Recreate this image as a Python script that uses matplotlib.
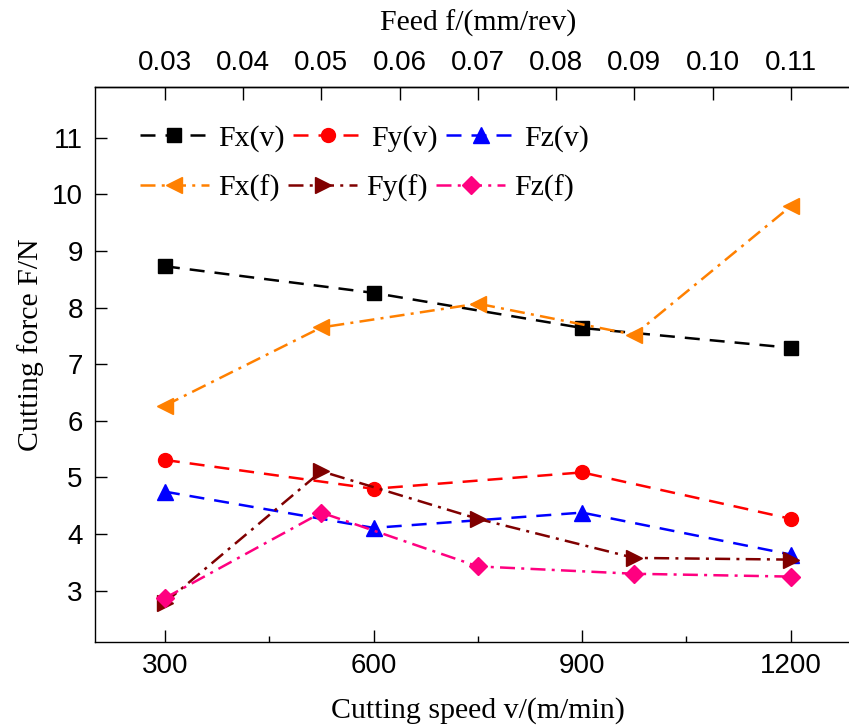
import numpy as np
import matplotlib
matplotlib.use('Agg')
import matplotlib.pyplot as plt
from matplotlib.ticker import MultipleLocator, FormatStrFormatter
plt.rcParams.update({'font.family': 'sans-serif',
                     'font.sans-serif': ['Liberation Sans', 'DejaVu Sans']})

# cutting speed series (bottom axis)
speed = [300, 600, 900, 1200]
fx_v = [8.73, 8.26, 7.64, 7.29]
fy_v = [5.31, 4.80, 5.09, 4.27]
fz_v = [4.75, 4.11, 4.38, 3.64]

# feed series (top axis)
feed = [0.03, 0.05, 0.07, 0.09, 0.11]
fx_f = [6.27, 7.65, 8.07, 7.52, 9.79]
fy_f = [2.79, 5.11, 4.27, 3.58, 3.55]
fz_f = [2.87, 4.38, 3.43, 3.30, 3.25]

feed_ticks = [0.03, 0.04, 0.05, 0.06, 0.07, 0.08, 0.09, 0.10, 0.11]


def f2v(f):
    return 300 + (np.asarray(f) - 0.03) * 11250.0


def v2f(v):
    return 0.03 + (np.asarray(v) - 300) / 11250.0


serif = 'Liberation Serif'
lw = 1.8
dash = (0, (6, 4))
dashdot = (0, (6, 2.5, 1.2, 2.5))

fig = plt.figure(figsize=(8.49, 7.27), dpi=100)
ax = fig.add_axes([0.1123, 0.1173, 0.901, 0.7634])

h1, = ax.plot(speed, fx_v, color='black', ls=dash, lw=lw, marker='s', ms=9.5, label='Fx(v)')
h2, = ax.plot(speed, fy_v, color='#ff0000', ls=dash, lw=lw, marker='o', ms=10, label='Fy(v)')
h3, = ax.plot(speed, fz_v, color='#0000ff', ls=dash, lw=lw, marker='^', ms=11, label='Fz(v)')
h4, = ax.plot(f2v(feed), fx_f, color='#ff8000', ls=dashdot, lw=lw, marker='<', ms=12, label='Fx(f)')
h5, = ax.plot(f2v(feed), fy_f, color='#800000', ls=dashdot, lw=lw, marker='>', ms=12, label='Fy(f)')
h6, = ax.plot(f2v(feed), fz_f, color='#ff0080', ls=dashdot, lw=lw, marker='D', ms=9, label='Fz(f)')

ax.set_xlim(200, 1300)
ax.set_ylim(2.1, 11.9)
ax.xaxis.set_minor_locator(MultipleLocator(150))
ax.set_xticks([300, 600, 900, 1200])
ax.set_yticks(range(3, 12))
ax.tick_params(axis='both', which='major', direction='in', length=8.5, width=1, labelsize=20)
ax.tick_params(axis='x', which='major', pad=8)
ax.tick_params(axis='y', which='major', pad=9)
ax.tick_params(axis='x', which='minor', direction='in', length=4.5, width=1)
ax.spines['right'].set_visible(False)
for s in ['left', 'bottom', 'top']:
    ax.spines[s].set_linewidth(1.0)

ax.set_xlabel('Cutting speed v/(m/min)', family=serif, fontsize=21.5, labelpad=13)
ax.set_ylabel('Cutting force F/N', family=serif, fontsize=21.5)
ax.yaxis.set_label_coords(-0.067, 0.535)

top = ax.secondary_xaxis('top', functions=(v2f, f2v))
top.set_xticks(feed_ticks)
top.xaxis.set_major_formatter(FormatStrFormatter('%.2f'))
top.tick_params(axis='x', which='major', direction='in', length=9, width=1, labelsize=20, pad=8)
top.tick_params(axis='x', which='minor', length=0)
top.spines['top'].set_linewidth(1.0)
top.set_xlabel('Feed f/(mm/rev)', family=serif, fontsize=21.5, labelpad=14)

leg_kw = dict(frameon=False, ncol=3, handlelength=2.3, handletextpad=0.3,
              columnspacing=0.3, borderpad=0, borderaxespad=0,
              prop={'family': serif, 'size': 21.5})
leg1 = ax.legend(handles=[h1, h2, h3], loc='center left',
                 bbox_to_anchor=(0.0584, 0.9076), **leg_kw)
ax.add_artist(leg1)
ax.legend(handles=[h4, h5, h6], loc='center left',
          bbox_to_anchor=(0.0584, 0.8175), **leg_kw)

fig.savefig('out.png', dpi=100)
